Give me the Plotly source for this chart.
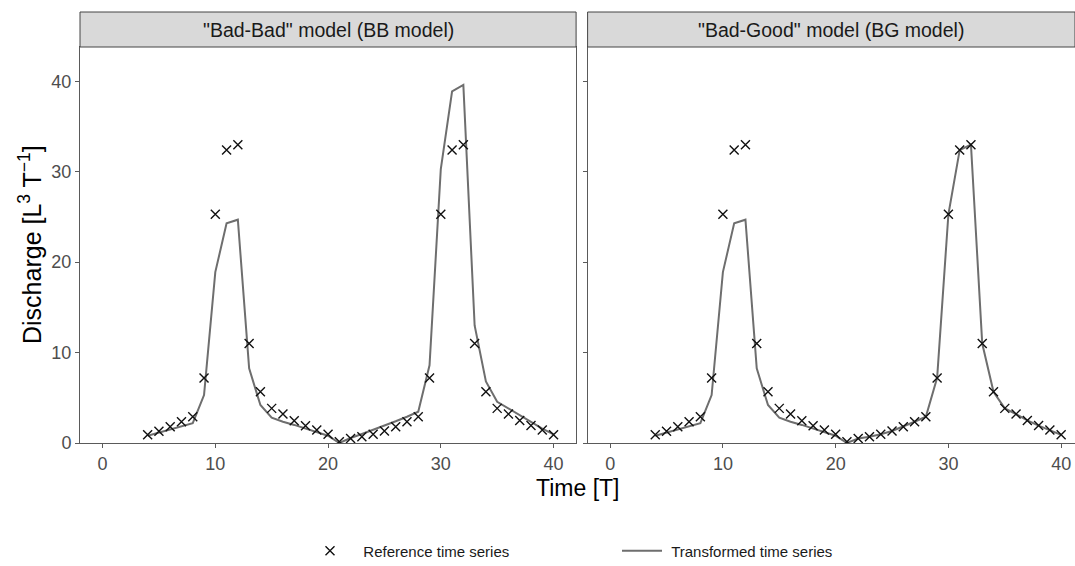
import plotly.graph_objects as go

# ---------------- data ----------------
time = [4, 5, 6, 7, 8, 9, 10, 11, 12, 13, 14, 15, 16, 17, 18, 19, 20, 21, 22,
        23, 24, 25, 26, 27, 28, 29, 30, 31, 32, 33, 34, 35, 36, 37, 38, 39, 40]

reference = [0.9, 1.3, 1.8, 2.35, 2.9, 7.2, 25.3, 32.4, 33.0, 11.0, 5.67, 3.83,
             3.2, 2.47, 1.92, 1.44, 0.96, 0.15, 0.5, 0.7, 0.96, 1.33, 1.8, 2.35,
             2.9, 7.2, 25.3, 32.4, 33.0, 11.0, 5.67, 3.83, 3.2, 2.5, 1.93, 1.45, 0.9]

transformed_bb = [0.8, 1.15, 1.5, 1.85, 2.2, 5.3, 18.9, 24.3, 24.7, 8.25, 4.2, 2.8,
                  2.35, 2.0, 1.6, 1.25, 0.8, 0.0, 0.55, 1.0, 1.45, 1.9, 2.4, 2.9,
                  3.46, 8.6, 30.3, 38.9, 39.6, 13.0, 6.8, 4.56, 3.8, 3.1, 2.35, 1.6, 0.95]

transformed_bg = [0.8, 1.15, 1.5, 1.85, 2.2, 5.3, 18.9, 24.3, 24.7, 8.25, 4.2, 2.8,
                  2.35, 2.0, 1.6, 1.25, 0.8, 0.0, 0.5, 0.7, 0.96, 1.33, 1.8, 2.35,
                  2.9, 7.2, 25.3, 32.4, 33.0, 11.0, 5.67, 3.83, 3.2, 2.5, 1.93, 1.45, 0.9]

panel_titles = ['"Bad-Bad" model (BB model)', '"Bad-Good" model (BG model)']
x_ticks = [0, 10, 20, 30, 40]
y_ticks = [0, 10, 20, 30, 40]

# ---------------- figure ----------------
FONT = "Liberation Sans, Arial, sans-serif"
LINE_COL = "#6e6e6e"
AX_COL = "#5a5a5a"

fig = go.Figure()

for i, (trans, xa, ya) in enumerate([(transformed_bb, "x", "y"), (transformed_bg, "x2", "y2")]):
    fig.add_trace(go.Scatter(
        x=time, y=trans, mode="lines", name="\u00a0Transformed time series",
        line=dict(color=LINE_COL, width=2), xaxis=xa, yaxis=ya,
        showlegend=(i == 0), legendrank=2))
    fig.add_trace(go.Scatter(
        x=time, y=reference, mode="markers", name="\u00a0\u00a0Reference time series",
        marker=dict(symbol="x-thin", size=9, line=dict(color="#111111", width=1.4)),
        xaxis=xa, yaxis=ya, showlegend=(i == 0), legendrank=1))

W, H = 1075, 566
ml, mr, mt, mb = 80, 0, 47, 123
pw = W - ml - mr
ph = H - mt - mb
px_per_unit = 11.275
panel_w = 44 * px_per_unit          # range [-2, 42]
gap = 11.5
d1 = [0, panel_w / pw]
d2 = [(panel_w + gap) / pw, 1]
x2_max = -2 + (pw - panel_w - gap) / px_per_unit

axis_common = dict(
    showgrid=False, zeroline=False, showline=True, mirror=True,
    linecolor=AX_COL, linewidth=1, ticks="outside", ticklen=4,
    tickcolor=AX_COL, tickfont=dict(family=FONT, size=18, color="#4d4d4d"),
)

fig.update_layout(
    width=W, height=H,
    margin=dict(l=ml, r=mr, t=mt, b=mb, pad=0, autoexpand=False),
    paper_bgcolor="white", plot_bgcolor="white",
    font=dict(family=FONT, color="#1a1a1a"),
    xaxis=dict(domain=d1, range=[-2, 42], tickvals=x_ticks, anchor="y", **axis_common),
    xaxis2=dict(domain=d2, range=[-2, x2_max], tickvals=x_ticks, anchor="y2", **axis_common),
    yaxis=dict(domain=[0, 1], range=[0, 43.8], tickvals=y_ticks, anchor="x", **axis_common),
    yaxis2=dict(domain=[0, 1], range=[0, 43.8], tickvals=y_ticks, anchor="x2",
                showticklabels=False, **axis_common),
    legend=dict(orientation="h", xref="container", x=305 / W, xanchor="left",
                yref="container", y=(H - 551) / H, yanchor="middle",
                font=dict(family=FONT, size=15, color="#1a1a1a"),
                itemwidth=40, traceorder="normal", entrywidthmode="pixels", entrywidth=257),
    showlegend=True,
)

strip_h = 35 / ph
shapes = []
annotations = []
for dom, title in zip([d1, d2], panel_titles):
    shapes.append(dict(type="rect", xref="paper", yref="paper",
                       x0=dom[0], x1=dom[1], y0=1, y1=1 + strip_h,
                       fillcolor="#d9d9d9", line=dict(color="#444444", width=1)))
    annotations.append(dict(text=title, xref="paper", yref="paper",
                            x=(dom[0] + dom[1]) / 2, y=1 + strip_h / 2,
                            xanchor="center", yanchor="middle", showarrow=False,
                            font=dict(family=FONT, size=19.5, color="#1a1a1a")))

annotations.append(dict(text="Time [T]", xref="paper", yref="paper",
                        x=0.5, y=-45 / ph, xanchor="center", yanchor="middle",
                        showarrow=False, font=dict(family=FONT, size=23, color="#000000")))
annotations.append(dict(text="Discharge [L<sup>3</sup> T<sup>\u22121</sup>]",
                        xref="paper", yref="paper",
                        x=-50 / pw, y=0.5, xanchor="center", yanchor="middle",
                        textangle=-90, showarrow=False,
                        font=dict(family=FONT, size=25, color="#000000")))

fig.update_layout(shapes=shapes, annotations=annotations)

fig.write_html("out.html", config={"displayModeBar": False},
               post_script="document.body.style.margin='0';")
